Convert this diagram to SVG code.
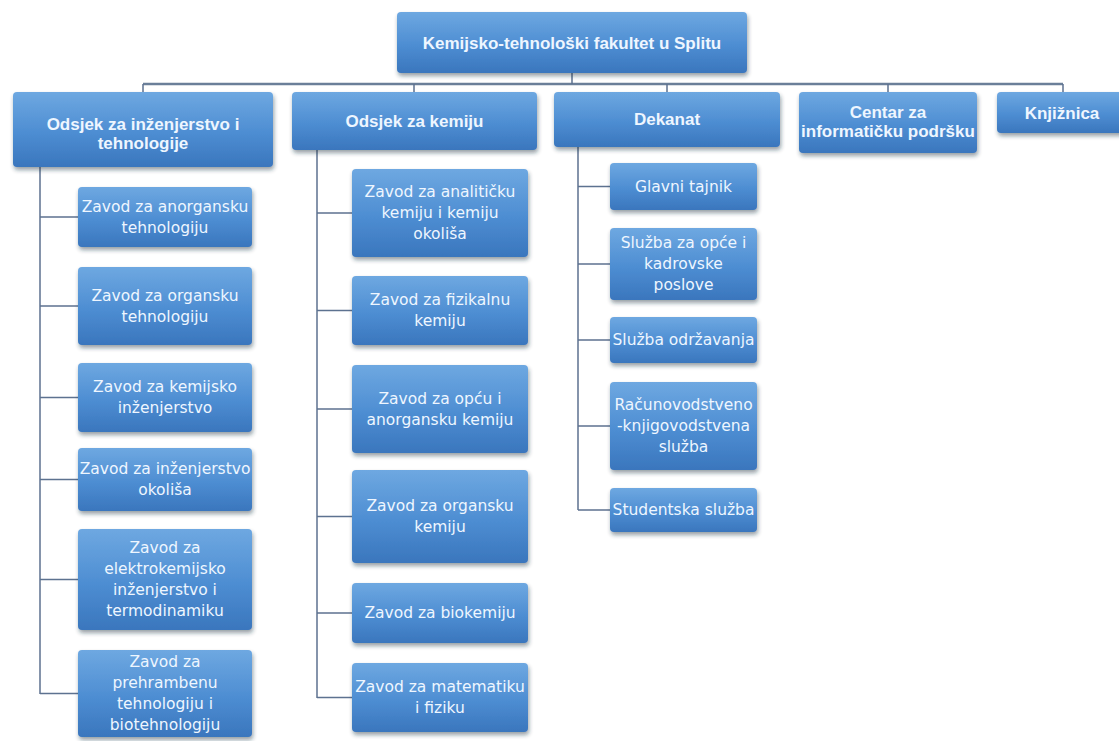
<svg xmlns="http://www.w3.org/2000/svg" width="1119" height="741" viewBox="0 0 1119 741">
<defs>
<linearGradient id="g" x1="0" y1="0" x2="0" y2="1">
<stop offset="0" stop-color="#6ea8e1"/>
<stop offset="0.55" stop-color="#4d8dd2"/>
<stop offset="1" stop-color="#3a76bd"/>
</linearGradient>
<filter id="sh" x="-10%" y="-10%" width="120%" height="130%">
<feDropShadow dx="1" dy="3" stdDeviation="2" flood-color="#1e2a3a" flood-opacity="0.45"/>
</filter>
<style>
.box{fill:url(#g);filter:url(#sh);}
.t1{font-family:"Liberation Sans",Arial,sans-serif;font-weight:bold;font-size:17px;fill:#eef6ff;text-anchor:middle;}
.t2{font-family:"DejaVu Sans",sans-serif;font-size:15.5px;fill:#eef6ff;text-anchor:middle;}
.c{stroke:#5d7290;stroke-width:1.5;fill:none;}
.bus{stroke:#6b7f99;stroke-width:2.5;fill:none;}
</style>
</defs>
<rect width="1119" height="741" fill="#ffffff"/>
<g id="connectors">
<path class="bus" d="M143 84H1063"/>
<path class="c" d="M572 73V84M143 84V92M414 84V92M667 84V92M888 84V92M1063 84V92"/>
<path class="c" d="M40 167V694M40 217H78M40 306H78M40 397.5H78M40 479.5H78M40 579.5H78M40 693.5H78"/>
<path class="c" d="M317 150V698M317 213H352M317 310.5H352M317 409H352M317 516.5H352M317 613H352M317 697.5H352"/>
<path class="c" d="M578 147V510M578 186.5H610M578 264H610M578 340H610M578 426H610M578 510H610"/>
</g>
<g id="root"><rect class="box" x="397" y="12" width="350" height="61" rx="4"/><text class="t1" x="572" y="49">Kemijsko-tehnološki fakultet u Splitu</text></g>
<g id="odsjek-inz"><rect class="box" x="13" y="92" width="260" height="75" rx="4"/><text class="t1" x="143" y="130">Odsjek za inženjerstvo i</text><text class="t1" x="143" y="149">tehnologije</text></g>
<g id="odsjek-kem"><rect class="box" x="292" y="92" width="245" height="58" rx="4"/><text class="t1" x="414.5" y="127">Odsjek za kemiju</text></g>
<g id="dekanat"><rect class="box" x="554" y="92" width="226" height="55" rx="4"/><text class="t1" x="667" y="125">Dekanat</text></g>
<g id="centar"><rect class="box" x="799" y="92" width="178" height="61" rx="4"/><text class="t1" x="888" y="118">Centar za</text><text class="t1" x="888" y="137">informatičku podršku</text></g>
<g id="knjiznica"><rect class="box" x="997" y="92" width="130" height="41" rx="4"/><text class="t1" x="1062" y="119">Knjižnica</text></g>

<g id="c1"><rect class="box" x="78" y="187" width="174" height="60" rx="4"/><text class="t2" x="165" y="212">Zavod za anorgansku</text><text class="t2" x="165" y="233">tehnologiju</text></g>
<g id="c2"><rect class="box" x="78" y="267" width="174" height="78" rx="4"/><text class="t2" x="165" y="301">Zavod za organsku</text><text class="t2" x="165" y="322">tehnologiju</text></g>
<g id="c3"><rect class="box" x="78" y="363" width="174" height="69" rx="4"/><text class="t2" x="165" y="392">Zavod za kemijsko</text><text class="t2" x="165" y="413">inženjerstvo</text></g>
<g id="c4"><rect class="box" x="78" y="448" width="174" height="63" rx="4"/><text class="t2" x="165" y="474">Zavod za inženjerstvo</text><text class="t2" x="165" y="495">okoliša</text></g>
<g id="c5"><rect class="box" x="78" y="529" width="174" height="101" rx="4"/><text class="t2" x="165" y="553">Zavod za</text><text class="t2" x="165" y="574">elektrokemijsko</text><text class="t2" x="165" y="595">inženjerstvo i</text><text class="t2" x="165" y="616">termodinamiku</text></g>
<g id="c6"><rect class="box" x="78" y="650" width="174" height="87" rx="4"/><text class="t2" x="165" y="667">Zavod za</text><text class="t2" x="165" y="688">prehrambenu</text><text class="t2" x="165" y="709">tehnologiju i</text><text class="t2" x="165" y="730">biotehnologiju</text></g>

<g id="d1"><rect class="box" x="352" y="169" width="176" height="88" rx="4"/><text class="t2" x="440" y="197">Zavod za analitičku</text><text class="t2" x="440" y="218">kemiju i kemiju</text><text class="t2" x="440" y="239">okoliša</text></g>
<g id="d2"><rect class="box" x="352" y="276" width="176" height="69" rx="4"/><text class="t2" x="440" y="305">Zavod za fizikalnu</text><text class="t2" x="440" y="326">kemiju</text></g>
<g id="d3"><rect class="box" x="352" y="365" width="176" height="88" rx="4"/><text class="t2" x="440" y="404">Zavod za opću i</text><text class="t2" x="440" y="425">anorgansku kemiju</text></g>
<g id="d4"><rect class="box" x="352" y="470" width="176" height="93" rx="4"/><text class="t2" x="440" y="511">Zavod za organsku</text><text class="t2" x="440" y="532">kemiju</text></g>
<g id="d5"><rect class="box" x="352" y="583" width="176" height="60" rx="4"/><text class="t2" x="440" y="618">Zavod za biokemiju</text></g>
<g id="d6"><rect class="box" x="352" y="663" width="176" height="69" rx="4"/><text class="t2" x="440" y="692">Zavod za matematiku</text><text class="t2" x="440" y="713">i fiziku</text></g>

<g id="e1"><rect class="box" x="610" y="163" width="147" height="47" rx="4"/><text class="t2" x="683.5" y="191.5">Glavni tajnik</text></g>
<g id="e2"><rect class="box" x="610" y="228" width="147" height="72" rx="4"/><text class="t2" x="683.5" y="248">Služba za opće i</text><text class="t2" x="683.5" y="269">kadrovske</text><text class="t2" x="683.5" y="290">poslove</text></g>
<g id="e3"><rect class="box" x="610" y="317" width="147" height="46" rx="4"/><text class="t2" x="683.5" y="345">Služba održavanja</text></g>
<g id="e4"><rect class="box" x="610" y="382" width="147" height="88" rx="4"/><text class="t2" x="683.5" y="410">Računovodstveno</text><text class="t2" x="683.5" y="431">-knjigovodstvena</text><text class="t2" x="683.5" y="452">služba</text></g>
<g id="e5"><rect class="box" x="610" y="488" width="147" height="44" rx="4"/><text class="t2" x="683.5" y="515">Studentska služba</text></g>
</svg>
